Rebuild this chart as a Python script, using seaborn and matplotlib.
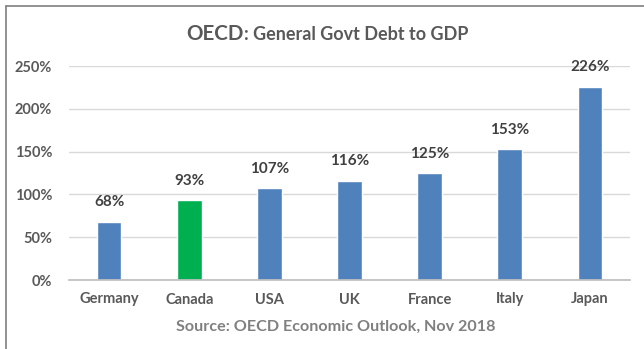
import matplotlib
matplotlib.use("Agg")
import matplotlib.pyplot as plt
import seaborn as sns
import pandas as pd
from matplotlib.lines import Line2D

countries = ["Germany", "Canada", "USA", "UK", "France", "Italy", "Japan"]
debt_pct = [68, 93, 107, 116, 125, 153, 226]
highlight = "Canada"
y_ticks = [0, 50, 100, 150, 200, 250]

blue = "#4F81BD"
green = "#00B050"
text_dark = "#595959"

sns.set_theme(style="white")
plt.rcParams["font.family"] = ["Lato", "DejaVu Sans"]

df = pd.DataFrame({"country": countries, "debt": debt_pct})
palette = {c: (green if c == highlight else blue) for c in countries}

fig = plt.figure(figsize=(6.44, 3.49), dpi=100)
ax = fig.add_axes([69 / 644, (349 - 280) / 349, 561 / 644, 214 / 349])

sns.barplot(data=df, x="country", y="debt", hue="country", palette=palette,
            width=0.31, legend=False, ax=ax, saturation=1)

ax.set_ylim(0, 250)
ax.set_yticks(y_ticks)
ax.set_yticklabels([f"{v}%" for v in y_ticks], fontweight="bold")
ax.set_xticks(range(len(countries)))
ax.set_xticklabels(countries, fontweight="bold")
ax.set_xlabel("")
ax.set_ylabel("")
ax.grid(axis="y", color="#D9D9D9", linewidth=1)
ax.set_axisbelow(True)
for s in ["top", "right", "left"]:
    ax.spines[s].set_visible(False)
ax.spines["bottom"].set_color("#BFBFBF")
ax.tick_params(axis="both", length=0, labelsize=10.5, labelcolor=text_dark)
ax.tick_params(axis="x", pad=9)
ax.tick_params(axis="y", pad=12)

for i, v in enumerate(debt_pct):
    ax.annotate(f"{v}%", (i, v), xytext=(0, 9), textcoords="offset points",
                ha="center", va="bottom", fontsize=11, fontweight="bold",
                color="#404040")

# title in two parts
split_x = 244 / 644
base_y = (349 - 40) / 349
fig.text(split_x, base_y, "OECD", ha="right", va="baseline", fontsize=14.8,
         fontweight="bold", color=text_dark)
fig.text(split_x, base_y, ": General Govt Debt to GDP", ha="left", va="baseline",
         fontsize=13, fontweight="bold", color=text_dark)

fig.text(336 / 644, (349 - 327) / 349, "Source: OECD Economic Outlook, Nov 2018",
         ha="center", va="center", fontsize=11.6, fontweight="bold", color="#808080")

# frame border
fig.add_artist(Line2D([6 / 644, 1], [1 - 6 / 349, 1 - 6 / 349], color="#7F7F7F",
                      linewidth=1.2, transform=fig.transFigure))
fig.add_artist(Line2D([6 / 644, 6 / 644], [0, 1 - 6 / 349], color="#7F7F7F",
                      linewidth=1.2, transform=fig.transFigure))

fig.savefig("out.png", dpi=100)
